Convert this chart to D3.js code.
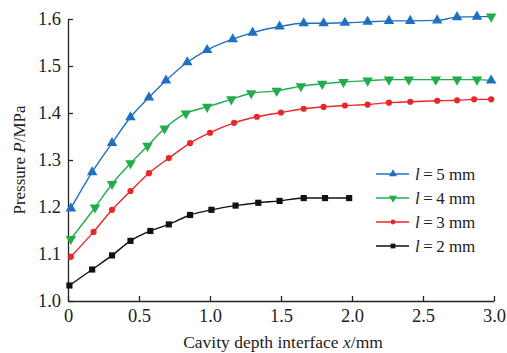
<!DOCTYPE html>
<html>
<head>
<meta charset="utf-8">
<script src="https://cdn.jsdelivr.net/npm/d3@7"></script>
<style>
  body { margin: 0; background: #fff; }
  svg { display: block; font-family: "Liberation Serif", "Times New Roman", serif; }
  .axis text { font-family: "Liberation Serif", "Times New Roman", serif; font-size: 18.5px; fill: #222; }
  .axis path, .axis line { stroke: #222; stroke-width: 1.3; }
</style>
</head>
<body>
<svg id="chart" width="507" height="353"></svg>
<script>
// values
const seriesNames = ["5", "4", "3", "2"];
const colors = ["#1f70c1", "#22ad4c", "#e8272a", "#111111"];

const x5 = [0.02,0.17,0.31,0.44,0.57,0.69,0.84,0.98,1.16,1.30,1.49,1.66,1.80,1.95,2.11,2.26,2.41,2.60,2.74,2.88,2.98];
const y5 = [1.197,1.274,1.336,1.391,1.433,1.469,1.508,1.534,1.557,1.571,1.584,1.591,1.591,1.592,1.594,1.596,1.596,1.597,1.604,1.605,1.605];

const x4 = [0.02,0.19,0.31,0.44,0.56,0.68,0.83,0.98,1.15,1.29,1.47,1.64,1.79,1.94,2.11,2.26,2.40,2.59,2.74,2.88,2.98];
const y4 = [1.132,1.199,1.249,1.293,1.330,1.367,1.399,1.413,1.429,1.442,1.447,1.457,1.462,1.466,1.469,1.471,1.471,1.471,1.471,1.471,1.469];

const x3 = [0.02,0.18,0.31,0.44,0.57,0.71,0.86,1.00,1.17,1.33,1.50,1.66,1.80,1.95,2.11,2.26,2.41,2.60,2.74,2.86,2.98];
const y3 = [1.094,1.147,1.194,1.234,1.272,1.304,1.336,1.358,1.379,1.392,1.401,1.409,1.413,1.416,1.418,1.422,1.424,1.426,1.427,1.429,1.429];

const x2 = [0.01,0.17,0.31,0.44,0.58,0.71,0.86,1.01,1.18,1.34,1.49,1.66,1.81,1.98];
const y2 = [1.033,1.067,1.097,1.128,1.149,1.163,1.183,1.194,1.203,1.209,1.213,1.219,1.219,1.219];

// in the original the last markers of l=5 and l=4 are swapped
const lastMarkerFrom = [1, 0, 2, 3];

const xTicks = [0, 0.5, 1.0, 1.5, 2.0, 2.5, 3.0];
const xTickLabels = ["0", "0.5", "1.0", "1.5", "2.0", "2.5", "3.0"];
const yTicks = [1.0, 1.1, 1.2, 1.3, 1.4, 1.5, 1.6];

const xs = [x5, x4, x3, x2];
const ys = [y5, y4, y3, y2];
const symbols = [d3.symbolTriangle, d3.symbolTriangle, d3.symbolCircle, d3.symbolSquare];
const symSize = [48, 48, 30, 38];
const symRot = [0, 180, 0, 0];

const svg = d3.select("#chart");
const plotL = 68, plotR = 494, plotT = 19, plotB = 301;

const x = d3.scaleLinear().domain([0, 3]).range([plotL, plotR]);
const y = d3.scaleLinear().domain([1.0, 1.6]).range([plotB, plotT]);

// axes, ticks pointing inward
svg.append("g")
  .attr("class", "axis")
  .attr("transform", `translate(0,${plotB})`)
  .call(d3.axisBottom(x).tickValues(xTicks)
    .tickFormat((d, i) => xTickLabels[i])
    .tickSizeInner(-5).tickSizeOuter(0).tickPadding(8));

svg.append("g")
  .attr("class", "axis")
  .attr("transform", `translate(${plotL},0)`)
  .call(d3.axisLeft(y).tickValues(yTicks)
    .tickFormat(d3.format(".1f"))
    .tickSizeInner(-5).tickSizeOuter(0).tickPadding(7));

const line = d3.line().curve(d3.curveMonotoneX);

function marker(g, k, cx, cy, scale) {
  g.append("path")
    .attr("d", d3.symbol().type(symbols[k]).size(symSize[k] * scale)())
    .attr("transform", `translate(${cx},${cy}) rotate(${symRot[k]})`)
    .attr("fill", colors[k]);
}

seriesNames.forEach((name, s) => {
  const pts = xs[s].map((v, i) => [x(v), y(ys[s][i])]);
  const g = svg.append("g");
  g.append("path")
    .attr("d", line(pts))
    .attr("fill", "none")
    .attr("stroke", colors[s])
    .attr("stroke-width", 1.4);
  pts.forEach((p, i) => {
    const k = i === pts.length - 1 ? lastMarkerFrom[s] : s;
    marker(g, k, p[0], p[1], 1);
  });
});

// legend
const legend = svg.append("g");
seriesNames.forEach((name, s) => {
  const ly = 174 + s * 24;
  legend.append("line")
    .attr("x1", 376).attr("x2", 409)
    .attr("y1", ly).attr("y2", ly)
    .attr("stroke", colors[s]).attr("stroke-width", 1.4);
  marker(legend, s, 393, ly, 0.6);
  const t = legend.append("text")
    .attr("x", 415).attr("y", ly + 6)
    .attr("font-size", 17).attr("fill", "#222");
  t.append("tspan").attr("font-style", "italic").text("l");
  t.append("tspan").text("\u2009=\u2009" + name + " mm");
});

// axis titles
const xt = svg.append("text")
  .attr("x", 283).attr("y", 348)
  .attr("text-anchor", "middle")
  .attr("font-size", 17.5).attr("fill", "#222");
xt.append("tspan").text("Cavity depth interface ");
xt.append("tspan").attr("font-style", "italic").text("x");
xt.append("tspan").text("/mm");

const yt = svg.append("text")
  .attr("transform", `translate(25,${(plotT + plotB) / 2}) rotate(-90)`)
  .attr("text-anchor", "middle")
  .attr("font-size", 17).attr("fill", "#222");
yt.append("tspan").text("Pressure ");
yt.append("tspan").attr("font-style", "italic").text("P");
yt.append("tspan").text("/MPa");
</script>
</body>
</html>
